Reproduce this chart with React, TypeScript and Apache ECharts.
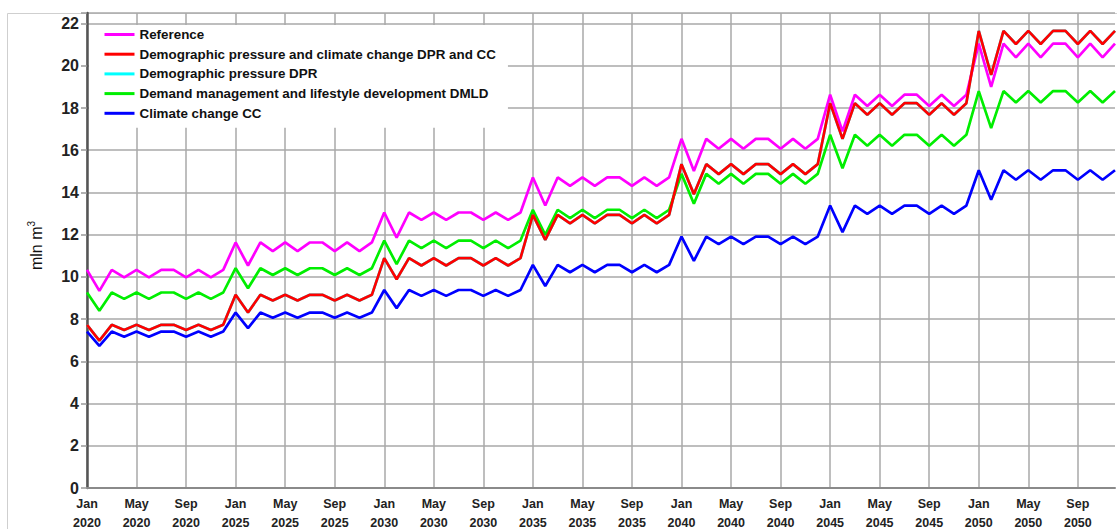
import React, { useEffect, useRef } from "react";
import * as echarts from "echarts";

const years = ["2020", "2025", "2030", "2035", "2040", "2045", "2050"];
const months = ["Jan", "Feb", "Mar", "Apr", "May", "Jun", "Jul", "Aug", "Sep", "Oct", "Nov", "Dec"];
const yTicks = [0, 2, 4, 6, 8, 10, 12, 14, 16, 18, 20, 22];

const reference = [
  10.33, 9.34, 10.33, 9.98, 10.33, 9.98, 10.33, 10.33, 9.98, 10.33, 9.98, 10.33,
  11.63, 10.54, 11.63, 11.22, 11.63, 11.22, 11.63, 11.63, 11.22, 11.63, 11.22, 11.63,
  13.05, 11.86, 13.05, 12.7, 13.05, 12.7, 13.05, 13.05, 12.7, 13.05, 12.7, 13.05,
  14.71, 13.38, 14.71, 14.31, 14.71, 14.31, 14.71, 14.71, 14.31, 14.71, 14.31, 14.71,
  16.54, 15.02, 16.54, 16.07, 16.54, 16.07, 16.54, 16.54, 16.07, 16.54, 16.07, 16.54,
  18.63, 16.89, 18.63, 18.1, 18.63, 18.1, 18.63, 18.63, 18.1, 18.63, 18.1, 18.63,
  21.05, 19.0, 21.05, 20.4, 21.05, 20.4, 21.05, 21.05, 20.4, 21.05, 20.4, 21.05,
];

const dprCc = [
  7.73, 6.98, 7.73, 7.49, 7.73, 7.49, 7.73, 7.73, 7.49, 7.73, 7.49, 7.73,
  9.15, 8.31, 9.15, 8.88, 9.15, 8.88, 9.15, 9.15, 8.88, 9.15, 8.88, 9.15,
  10.89, 9.89, 10.89, 10.54, 10.89, 10.54, 10.89, 10.89, 10.54, 10.89, 10.54, 10.89,
  12.94, 11.75, 12.94, 12.54, 12.94, 12.54, 12.94, 12.94, 12.54, 12.94, 12.54, 12.94,
  15.34, 13.92, 15.34, 14.87, 15.34, 14.87, 15.34, 15.34, 14.87, 15.34, 14.87, 15.34,
  18.23, 16.54, 18.23, 17.68, 18.23, 17.68, 18.23, 18.23, 17.68, 18.23, 17.68, 18.23,
  21.65, 19.57, 21.65, 21.03, 21.65, 21.03, 21.65, 21.65, 21.03, 21.65, 21.03, 21.65,
];

// DPR line is not visible in the picture: it lies underneath the DPR and CC line
const dpr = dprCc;

const dmld = [
  9.26, 8.4, 9.26, 8.96, 9.26, 8.96, 9.26, 9.26, 8.96, 9.26, 8.96, 9.26,
  10.41, 9.46, 10.41, 10.09, 10.41, 10.09, 10.41, 10.41, 10.09, 10.41, 10.09, 10.41,
  11.72, 10.6, 11.72, 11.36, 11.72, 11.36, 11.72, 11.72, 11.36, 11.72, 11.36, 11.72,
  13.18, 11.99, 13.18, 12.78, 13.18, 12.78, 13.18, 13.18, 12.78, 13.18, 12.78, 13.18,
  14.88, 13.46, 14.88, 14.41, 14.88, 14.41, 14.88, 14.88, 14.41, 14.88, 14.41, 14.88,
  16.73, 15.15, 16.73, 16.21, 16.73, 16.21, 16.73, 16.73, 16.21, 16.73, 16.21, 16.73,
  18.8, 17.05, 18.8, 18.26, 18.8, 18.26, 18.8, 18.8, 18.26, 18.8, 18.26, 18.8,
];

const cc = [
  7.41, 6.73, 7.41, 7.17, 7.41, 7.17, 7.41, 7.41, 7.17, 7.41, 7.17, 7.41,
  8.31, 7.57, 8.31, 8.07, 8.31, 8.07, 8.31, 8.31, 8.07, 8.31, 8.07, 8.31,
  9.38, 8.52, 9.38, 9.1, 9.38, 9.1, 9.38, 9.38, 9.1, 9.38, 9.1, 9.38,
  10.57, 9.57, 10.57, 10.22, 10.57, 10.22, 10.57, 10.57, 10.22, 10.57, 10.22, 10.57,
  11.91, 10.76, 11.91, 11.55, 11.91, 11.55, 11.91, 11.91, 11.55, 11.91, 11.55, 11.91,
  13.38, 12.12, 13.38, 12.99, 13.38, 12.99, 13.38, 13.38, 12.99, 13.38, 12.99, 13.38,
  15.05, 13.65, 15.05, 14.6, 15.05, 14.6, 15.05, 15.05, 14.6, 15.05, 14.6, 15.05,
];

const seriesNames = [
  "Reference",
  "Demographic pressure and climate change DPR and CC",
  "Demographic pressure DPR",
  "Demand management and lifestyle development DMLD",
  "Climate change CC",
];
const seriesColors = ["#ff00ff", "#ff0000", "#00ffff", "#00ee00", "#0000ff"];

const FONT = "'Liberation Sans', Arial, sans-serif";

export default function App() {
  const ref = useRef<HTMLDivElement>(null);

  useEffect(() => {
    if (!ref.current) return;
    const chart = echarts.init(ref.current, undefined, { renderer: "svg" });
    const categories: string[] = [];
    years.forEach((y) => months.forEach((m) => categories.push(m + "\n" + y)));
    const dataSets = [reference, dprCc, dpr, dmld, cc];
    const zs = [3, 4, 2, 3, 3];

    chart.setOption({
      animation: false,
      backgroundColor: "#ffffff",
      textStyle: { fontFamily: FONT },
      graphic: [
        {
          type: "rect",
          z: -10,
          silent: true,
          shape: { x: 7.5, y: 13.5, width: 1300, height: 700 },
          style: { fill: "none", stroke: "#cfcfcf", lineWidth: 1 },
        },
      ],
      grid: { left: 87, top: 13, right: 2, bottom: 41, containLabel: false, outerBoundsMode: "none" },
      legend: {
        orient: "vertical",
        left: 89,
        top: 25,
        backgroundColor: "#ffffff",
        padding: [3, 12, 8, 14],
        itemWidth: 30,
        itemHeight: 14,
        itemGap: 6.7,
        data: seriesNames,
        itemStyle: { opacity: 0 },
        lineStyle: { width: 3 },
        textStyle: { fontFamily: FONT, fontWeight: "bold", fontSize: 13.4, color: "#111" },
        z: 10,
      },
      xAxis: {
        type: "category",
        boundaryGap: false,
        data: categories,
        axisLine: { show: true, lineStyle: { color: "#8a8a8a", width: 2 } },
        axisTick: { show: false },
        axisLabel: {
          interval: 3,
          fontFamily: FONT,
          fontWeight: "bold",
          fontSize: 12.5,
          color: "#222",
          lineHeight: 19,
          margin: 6,
        },
        splitLine: { show: true, interval: 3, lineStyle: { color: "#a8a8a8", width: 1.5 } },
      },
      yAxis: {
        type: "value",
        min: 0,
        max: 22.5,
        interval: 2,
        name: "mln m{sup|3}",
        nameLocation: "middle",
        nameRotate: 90,
        nameGap: 41,
        nameTextStyle: {
          fontFamily: FONT,
          fontSize: 16,
          color: "#111",
          lineHeight: 20,
          padding: [0, 0, 0, 10],
          rich: {
            sup: { fontFamily: FONT, fontSize: 10, lineHeight: 20, verticalAlign: "top", padding: [0, 0, 8, 0], color: "#111" },
          },
        },
        axisLine: { show: true, lineStyle: { color: "#555", width: 2.5 } },
        axisTick: { show: true, length: 6, lineStyle: { color: "#999", width: 1.5 } },
        axisLabel: {
          fontFamily: FONT,
          fontWeight: "bold",
          fontSize: 16,
          color: "#222",
          margin: 8,
          formatter: (v: number) => (yTicks.indexOf(v) >= 0 ? String(v) : ""),
        },
        splitLine: { show: true, lineStyle: { color: "#a8a8a8", width: 1.5 } },
      },
      series: seriesNames.map((name, i) => ({
        name,
        type: "line",
        data: dataSets[i],
        symbol: "none",
        showSymbol: false,
        z: zs[i],
        color: seriesColors[i],
        lineStyle: { color: seriesColors[i], width: 2.7 },
      })),
    });

    return () => chart.dispose();
  }, []);

  return (
    <div
      ref={ref}
      style={{ position: "absolute", left: 0, top: 0, width: 1117, height: 529 }}
    />
  );
}
